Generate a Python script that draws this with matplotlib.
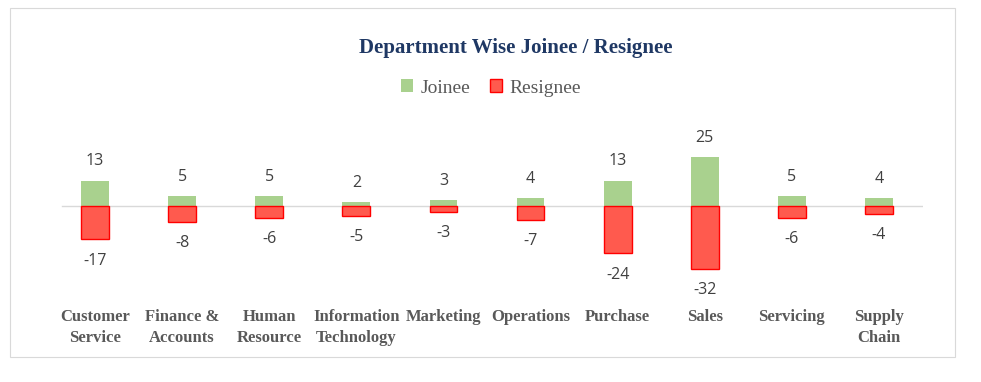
import matplotlib
matplotlib.use("Agg")
import matplotlib.pyplot as plt
from matplotlib.patches import Rectangle

departments = ["Customer\nService", "Finance &\nAccounts", "Human\nResource", "Information\nTechnology",
               "Marketing", "Operations", "Purchase", "Sales", "Servicing", "Supply\nChain"]
joinee = [13, 5, 5, 2, 3, 4, 13, 25, 5, 4]
resignee = [-17, -8, -6, -5, -3, -7, -24, -32, -6, -4]

W, H = 981, 382
fig = plt.figure(figsize=(W / 100, H / 100), dpi=100)

# chart border
fig.add_artist(Rectangle((10 / W, 1 - 357 / H), 945 / W, 349 / H, transform=fig.transFigure,
                         fill=False, edgecolor="#D9D9D9", linewidth=0.8))

ax_l, ax_r, ax_t, ax_b = 51.5, 922.5, 120, 300
ax = fig.add_axes([ax_l / W, 1 - ax_b / H, (ax_r - ax_l) / W, (ax_b - ax_t) / H])
ppu = 1.96
ax.set_ylim(-(ax_b - 206) / ppu, (206 - ax_t) / ppu)
ax.set_xlim(-0.5, len(departments) - 0.5)

x = range(len(departments))
green = "#A9D18E"
red = "#FF5A4E"
ax.bar(x, joinee, width=0.32, color=green, label="Joinee", zorder=2)
ax.bar(x, resignee, width=0.32, color=red, edgecolor="#FF0000", linewidth=1.0, label="Resignee", zorder=2)
ax.axhline(0, xmin=(62 - ax_l) / (ax_r - ax_l), xmax=1, color="#D9D9D9", linewidth=1.0, zorder=1)

num_font = dict(family=["Open Sans", "DejaVu Sans"], fontsize=11.5, color="#404040")
for i in x:
    ax.annotate(str(joinee[i]), (i, joinee[i]), xytext=(0, 14), textcoords="offset points",
                ha="center", va="center", **num_font)
    ax.annotate(str(resignee[i]), (i, resignee[i]), xytext=(0, -15.5), textcoords="offset points",
                ha="center", va="center", **num_font)

for s in ax.spines.values():
    s.set_visible(False)
ax.set_yticks([])
ax.set_xticks([])
for i, d in enumerate(departments):
    ax.text(i, -(309 - 206) / ppu, d, ha="center", va="top", fontsize=12, fontweight="bold",
            family="Liberation Serif", color="#595959", linespacing=1.45,
            transform=ax.transData)

fig.text(516 / W, 1 - 48 / H, "Department Wise Joinee / Resignee", ha="center", va="center",
         fontsize=15, fontweight="bold", family="Liberation Serif", color="#1F3864")

leg = fig.legend(loc="center", bbox_to_anchor=(491 / W, 1 - 88 / H), ncol=2, frameon=False,
                 prop=dict(family="Liberation Serif", size=14), handlelength=0.6, handleheight=0.6,
                 handletextpad=0.4, columnspacing=1.0)
for t in leg.get_texts():
    t.set_color("#595959")

fig.savefig("out.png", dpi=100)
